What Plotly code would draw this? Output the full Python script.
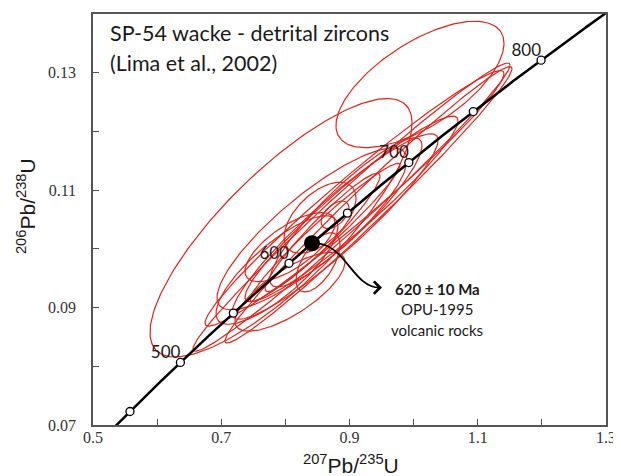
import numpy as np
import plotly.graph_objects as go

# ---- data ----
LAMBDA_238 = 1.55125e-10   # 1/yr
LAMBDA_235 = 9.8485e-10    # 1/yr
concordia_age_min = 430    # Ma
concordia_age_max = 860    # Ma
marker_ages = [450, 500, 550, 600, 650, 700, 750, 800]
label_ages = [500, 600, 700, 800]
mean_age = 620

# error ellipses: centre (207/235, 206/238), half-extents, correlation
ell_x   = [0.7932, 1.0099, 0.9031, 0.9296, 0.9078, 0.9031, 0.8774, 0.8945, 0.8415,
           0.8540, 0.8072, 0.7869, 0.8072, 0.8509, 0.8774, 0.8618, 0.8579]
ell_y   = [0.1036, 0.1280, 0.1071, 0.1075, 0.1086, 0.1068, 0.1038, 0.1062, 0.1034,
           0.1053, 0.1003, 0.0964, 0.0927, 0.0977, 0.1058, 0.1028, 0.1028]
ell_sx  = [0.2043, 0.1310, 0.2472, 0.2238, 0.2331, 0.1661, 0.1606, 0.1185, 0.1481,
           0.0561, 0.0702, 0.0951, 0.0858, 0.0343, 0.0218, 0.1170, 0.0897]
ell_sy  = [0.0220, 0.01076, 0.02454, 0.02353, 0.02176, 0.0158, 0.0158, 0.01269, 0.01378,
           0.00605, 0.00588, 0.00924, 0.00672, 0.00504, 0.00235, 0.01176, 0.01008]
ell_rho = [0.81, 0.65, 0.985, 0.985, 0.975, 0.95, 0.93, 0.90, 0.85,
           0.55, 0.70, 0.80, 0.75, 0.60, 0.50, 0.97, 0.95]

title_lines = ["SP-54 wacke - detrital zircons", "(Lima et al., 2002)"]
x_tickvals = [0.5, 0.7, 0.9, 1.1, 1.3]
x_ticktext = ["0.5", "0.7", "0.9", "1.1", "1.3"]
y_tickvals = [0.07, 0.09, 0.11, 0.13]
y_ticktext = ["0.07", "0.09", "0.11", "0.13"]


def concordia(age_ma):
    t = np.asarray(age_ma, dtype=float) * 1e6
    return np.exp(LAMBDA_235 * t) - 1, np.exp(LAMBDA_238 * t) - 1


RED = "#e2231a"
fig = go.Figure()

# ellipses
theta = np.linspace(0, 2 * np.pi, 200)
ex, ey = [], []
for cx, cy, sx, sy, r in zip(ell_x, ell_y, ell_sx, ell_sy, ell_rho):
    xs = cx + sx * np.cos(theta)
    ys = cy + sy * (r * np.cos(theta) + np.sqrt(1 - r * r) * np.sin(theta))
    ex += list(xs) + [None]
    ey += list(ys) + [None]
fig.add_trace(go.Scatter(x=ex, y=ey, mode="lines", line=dict(color=RED, width=1.2),
                         hoverinfo="skip", showlegend=False))

# concordia curve
ages = np.arange(concordia_age_min, concordia_age_max + 1, 1)
cx_, cy_ = concordia(ages)
fig.add_trace(go.Scatter(x=cx_, y=cy_, mode="lines", line=dict(color="black", width=2.5),
                         showlegend=False, hoverinfo="skip"))
mx, my = concordia(marker_ages)
fig.add_trace(go.Scatter(x=mx, y=my, mode="markers",
                         marker=dict(symbol="circle", size=8, color="white",
                                     line=dict(color="black", width=1.3)),
                         showlegend=False))
lx, ly = concordia(label_ages)
fig.add_trace(go.Scatter(x=lx, y=ly, mode="text", text=[str(a) for a in label_ages],
                         textposition="top left",
                         textfont=dict(family="Lato", size=17, color="#1a1a1a"),
                         showlegend=False))

# mean age dot
dx, dy = concordia([mean_age])
fig.add_trace(go.Scatter(x=dx, y=dy, mode="markers",
                         marker=dict(size=16, color="black"), showlegend=False))

# curved arrow
d0x, d0y = float(dx[0]), float(dy[0])
tipx, tipy = 0.9507, 0.0934
path = f"M {d0x},{d0y} C 0.893,0.1014 0.904,{tipy} {tipx - 0.004},{tipy}"
fig.add_shape(type="path", path=path, xref="x", yref="y",
              line=dict(color="black", width=1.8))
fig.add_annotation(x=tipx, y=tipy, ax=-6, ay=0, axref="pixel", ayref="pixel",
                   xref="x", yref="y", text="", showarrow=True,
                   arrowhead=4, arrowsize=1.6, arrowwidth=1.5, arrowcolor="black")

# note text
note_font = dict(family="Lato", size=15, color="#1a1a1a")
fig.add_annotation(x=1.0365, y=0.0932, xref="x", yref="y", text=f"<b>{mean_age} ± 10 Ma</b>",
                   showarrow=False, font=note_font)
fig.add_annotation(x=1.0365, y=0.0897, xref="x", yref="y", text="OPU-1995",
                   showarrow=False, font=note_font)
fig.add_annotation(x=1.0365, y=0.0861, xref="x", yref="y", text="volcanic rocks",
                   showarrow=False, font=note_font)

# title lines
tfont = dict(family="Lato", size=21.5, color="#1a1a1a")
fig.add_annotation(x=0.029, y=0.954, xref="paper", yref="paper", xanchor="left",
                   yanchor="middle", text=title_lines[0], showarrow=False, font=tfont)
fig.add_annotation(x=0.029, y=0.881, xref="paper", yref="paper", xanchor="left",
                   yanchor="middle", text=title_lines[1], showarrow=False, font=tfont)

# axis titles
afont = dict(family="Liberation Sans", size=21, color="#1a1a1a")
fig.add_annotation(x=(351 - 93) / 513, y=(425 - 464) / 413, xref="paper", yref="paper",
                   text="<sup>207</sup>Pb/<sup>235</sup>U", showarrow=False, font=afont,
                   xanchor="center", yanchor="middle")
fig.add_annotation(x=(26 - 93) / 513, y=(425 - 205) / 413, xref="paper", yref="paper",
                   text="<sup>206</sup>Pb/<sup>238</sup>U", showarrow=False, font=afont,
                   textangle=-90, xanchor="center", yanchor="middle")

axis_common = dict(showgrid=False, zeroline=False, showline=True, mirror=True,
                   linecolor="#555555", linewidth=1.5, ticks="inside", ticklen=6,
                   tickcolor="#555555", tickwidth=1.2,
                   tickfont=dict(family="Liberation Serif", size=16, color="#333333"))
fig.update_xaxes(range=[0.5, 1.3], tickvals=x_tickvals, ticktext=x_ticktext,
                 ticklabelstandoff=-3,
                 minor=dict(dtick=0.1, tick0=0.5, ticks="inside", ticklen=6,
                            tickcolor="#555555", tickwidth=1.2),
                 **axis_common)
fig.update_yaxes(range=[0.07, 0.14], tickvals=y_tickvals, ticktext=y_ticktext,
                 ticklabelstandoff=12,
                 minor=dict(dtick=0.01, tick0=0.07, ticks="inside", ticklen=6,
                            tickcolor="#555555", tickwidth=1.2),
                 **axis_common)

# the page body adds an 8 px offset; size the figure so the plot area lands
# at the same window pixels as the reference
fig.update_layout(width=613, height=468, margin=dict(l=85, r=15, t=4, b=51),
                  plot_bgcolor="white", paper_bgcolor="white", showlegend=False)

fig.write_html("out.html")
